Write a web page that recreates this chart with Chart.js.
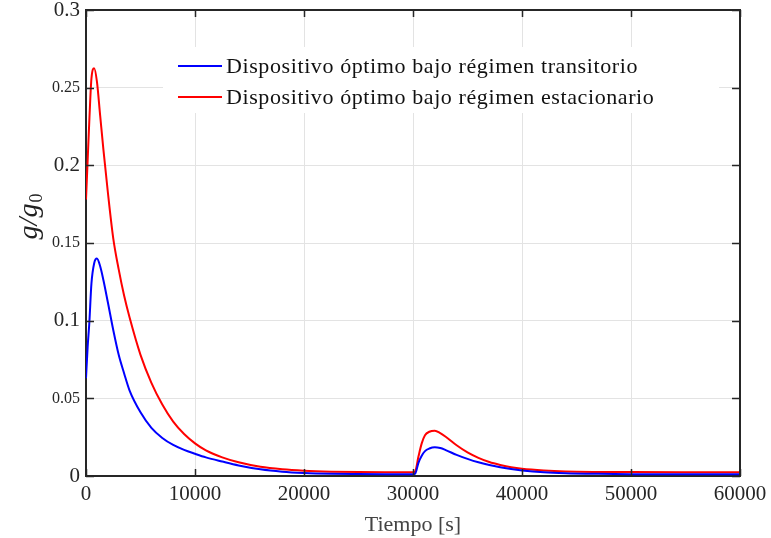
<!DOCTYPE html>
<html>
<head>
<meta charset="utf-8">
<script src="https://cdn.jsdelivr.net/npm/chart.js@4/dist/chart.umd.min.js"></script>
<style>
html,body{margin:0;padding:0;background:#fff}
#wrap{width:771px;height:538px}
</style>
</head>
<body>
<div id="wrap"><canvas id="grafico"></canvas></div>
<script>

// tiempo [s] y g/g0
const tiempo = [0,150,300,500,750,1000,1300,1600,2000,2500,3000,3500,4000,5000,6000,7000,8000,9000,10000,11000,12500,14000,16000,18000,20000,22500,25000,27500,30000,30200,30500,30800,31100,31500,32000,32500,33000,34000,35000,36000,37000,38000,39000,40000,42000,44000,47000,50000,55000,60000]

const transitorio = [0.063,0.083,0.098,0.124,0.137,0.140,0.135,0.126,0.112,0.094,0.078,0.066,0.055,0.041,0.031,0.0245,0.0200,0.0168,0.0143,0.0120,0.0093,0.0068,0.0043,0.0028,0.0020,0.0015,0.0013,0.0012,0.0012,0.0015,0.0085,0.0130,0.0160,0.0177,0.0185,0.0180,0.0167,0.0136,0.0110,0.0088,0.0071,0.0057,0.0045,0.0036,0.0024,0.0018,0.0014,0.0012,0.0011,0.0011]

const estacionario = [0.178,0.203,0.228,0.256,0.2625,0.254,0.232,0.210,0.183,0.153,0.133,0.116,0.102,0.078,0.060,0.046,0.035,0.027,0.021,0.0165,0.012,0.0088,0.0059,0.0043,0.0034,0.0028,0.0025,0.0024,0.0024,0.0030,0.0125,0.021,0.0262,0.0285,0.0291,0.0276,0.0253,0.0198,0.0152,0.0117,0.0090,0.0071,0.0056,0.0046,0.0035,0.0029,0.0026,0.0025,0.0024,0.0024]

const etiquetas = ["Dispositivo óptimo bajo régimen transitorio","Dispositivo óptimo bajo régimen estacionario"]
const xTickLabels = ["0","10000","20000","30000","40000","50000","60000"]
const yTickLabels = ["0","0.05","0.1","0.15","0.2","0.25","0.3"]

const serif = "'Liberation Serif', 'DejaVu Serif', serif"
const ejeColor = "#262626"

function puntos(ys){
return tiempo.map((t,i) => ({x:t,y:ys[i]}))
}

/* caja, marcas interiores, leyenda y titulo y */
const marcoPlugin = {
id:"marco",
afterDraw(chart){
const c = chart.ctx
const a = chart.chartArea
const xs = chart.scales.x
const ys = chart.scales.y
c.save()
c.strokeStyle = ejeColor
c.lineWidth = 2
c.beginPath()
c.moveTo(a.left,a.top); c.lineTo(a.right,a.top); c.lineTo(a.right,a.bottom)
c.stroke()
c.lineWidth = 1.5
c.beginPath()
xs.ticks.forEach(t => {
const px = Math.round(xs.getPixelForValue(t.value)) + 0.5
c.moveTo(px,a.bottom); c.lineTo(px,a.bottom-7)
c.moveTo(px,a.top); c.lineTo(px,a.top+7)
})
ys.ticks.forEach(t => {
const py = Math.round(ys.getPixelForValue(t.value)) + 0.5
c.moveTo(a.left,py); c.lineTo(a.left+8,py)
c.moveTo(a.right,py); c.lineTo(a.right-8,py)
})
c.stroke()

// leyenda
c.fillStyle = "#fff"
c.fillRect(163,47,556,66)
chart.data.datasets.forEach((ds,i) => {
const y = 66 + i*31
c.strokeStyle = ds.borderColor
c.lineWidth = 2
c.beginPath(); c.moveTo(178,y); c.lineTo(222,y); c.stroke()
c.fillStyle = "#111"
c.font = "22px " + serif
c.letterSpacing = "0.6px"
c.textBaseline = "middle"
c.fillText(ds.label,226,y+1)
})
c.letterSpacing = "0px"

// titulo eje y: g/g0
c.translate(31,217)
c.rotate(-Math.PI/2)
c.fillStyle = "#222"
c.textBaseline = "alphabetic"
c.font = "italic 28px " + serif
const w1 = c.measureText("g/g").width
c.font = "18px " + serif
const w2 = c.measureText("0").width
const x0 = -(w1+w2)/2
c.font = "italic 28px " + serif
c.fillText("g/g",x0,6)
c.font = "18px " + serif
c.fillText("0",x0+w1+1,11)
c.restore()
}
}

new Chart(document.getElementById("grafico"),{
type:"line",
data:{
datasets:[{
label:etiquetas[0],
data:puntos(transitorio),
borderColor:"#0000ff",
borderWidth:2,
pointRadius:0,
cubicInterpolationMode:"monotone",
fill:false
},{
label:etiquetas[1],
data:puntos(estacionario),
borderColor:"#ff0000",
borderWidth:2,
pointRadius:0,
cubicInterpolationMode:"monotone",
fill:false
}]
},
options:{
responsive:true,
maintainAspectRatio:false,
animation:false,
layout:{padding:{top:10,right:31,left:0,bottom:0}},
plugins:{legend:{display:false},tooltip:{enabled:false}},
scales:{
x:{
type:"linear",
min:0,
max:60000,
afterFit(s){ s.height = 62; s.paddingLeft = 0; s.paddingRight = 0 },
ticks:{
stepSize:10000,
padding:6,
color:ejeColor,
font:{family:serif,size:21},
maxRotation:0,
callback:(v,i) => xTickLabels[i]
},
grid:{color:"#e3e3e3",lineWidth:1,drawTicks:false},
border:{display:true,color:ejeColor,width:2},
title:{display:true,text:"Tiempo [s]",color:"#444",font:{family:serif,size:22},padding:{top:0,bottom:0}}
},
y:{
type:"linear",
min:0,
max:0.3,
afterFit(s){ s.width = 86; s.paddingTop = 0; s.paddingBottom = 0 },
ticks:{
stepSize:0.05,
padding:6,
color:ejeColor,
font:ctx => ({family:serif,size:(ctx.tick && Math.round(ctx.tick.value*100) % 10 === 5) ? 16 : 21}),
callback:(v,i) => yTickLabels[i]
},
grid:{color:"#e3e3e3",lineWidth:1,drawTicks:false},
border:{display:true,color:ejeColor,width:2}
}
}
},
plugins:[marcoPlugin]
})

</script>
</body>
</html>
